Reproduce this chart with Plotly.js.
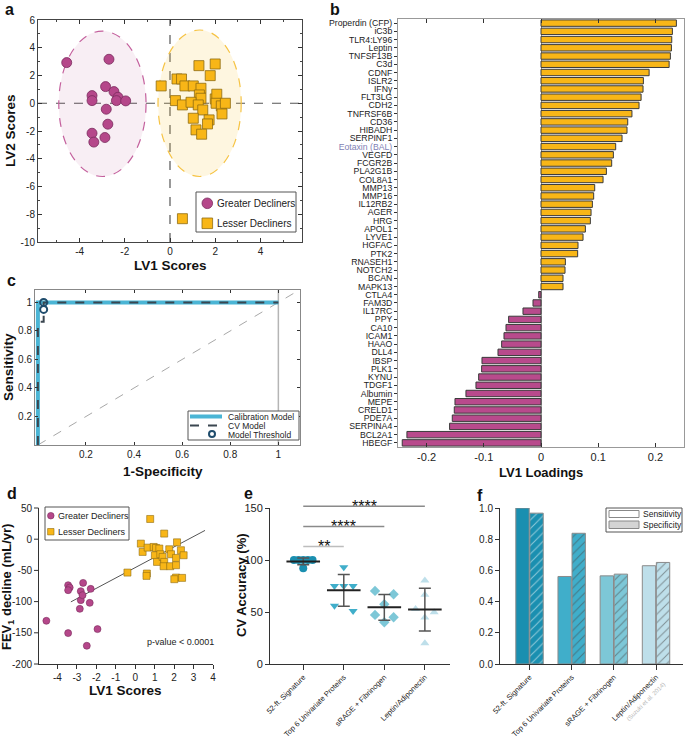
<!DOCTYPE html>
<html><head><meta charset="utf-8">
<script src="https://cdn.plot.ly/plotly-3.0.1.min.js"></script>
<style>html,body{margin:0;padding:0;background:#fff}#chart{width:685px;height:742px;position:relative}#ov{position:absolute;left:0;top:0;z-index:1000;pointer-events:none}</style>
</head><body><div id="chart"></div>
<script>
// ---------------- DATA ----------------
// Panel a: PLS-DA scores
const aGreaterX = [-4.57,-2.70,-2.85,-2.48,-3.45,-3.45,-2.30,-2.37,-1.96,-2.82,-2.75,-3.45,-3.37,-2.88];
const aGreaterY = [2.93,3.17,1.20,0.84,0.55,0.19,0.43,0.19,0.17,-0.43,-1.51,-2.16,-2.80,-2.47];
const aLesserX = [-0.39,0.31,0.51,0.66,1.03,1.28,2.00,1.78,1.37,1.30,1.37,0.24,0.55,0.93,1.25,1.45,2.00,2.07,2.04,2.27,2.45,2.30,1.03,1.73,1.66,1.15,1.40,0.55];
const aLesserY = [1.25,1.75,1.75,1.25,1.25,2.71,2.83,1.99,1.08,0.60,0.36,0.19,-0.12,0.07,-0.12,-0.48,0.31,0.65,0.00,-0.19,0.00,-0.77,-1.08,-1.20,-1.49,-1.92,-2.23,-8.32];
// confidence ellipses [greater, lesser]
const ellipseCx = [-2.99, 1.31];
const ellipseCy = [-0.04, 0.00];
const ellipseRx = [1.93, 1.84];
const ellipseRy = [5.24, 5.28];
const groupNames = ['Greater Decliners','Lesser Decliners'];

// Panel b: LV1 loadings
const bNames = ['Properdin (CFP)','iC3b','TLR4:LY96','Leptin','TNFSF13B','C3d','CDNF','ISLR2','IFNγ','FLT3LG','CDH2','TNFRSF6B','CD36','HIBADH','SERPINF1','Eotaxin (BAL)','VEGFD','FCGR2B','PLA2G1B','COL8A1','MMP13','MMP16','IL12RB2','AGER','HRG','APOL1','LYVE1','HGFAC','PTK2','RNASEH1','NOTCH2','BCAN','MAPK13','CTLA4','FAM3D','IL17RC','PPY','CA10','ICAM1','HAAO','DLL4','IBSP','PLK1','KYNU','TDGF1','Albumin','MEPE','CRELD1','PDE7A','SERPINA4','BCL2A1','HBEGF'];
const bLoadings = [0.2367,0.2297,0.2286,0.2280,0.2262,0.2240,0.1890,0.1790,0.1784,0.1750,0.1714,0.1590,0.1516,0.1504,0.1417,0.1306,0.1265,0.1236,0.1143,0.1085,0.0939,0.0921,0.0898,0.0875,0.0863,0.0776,0.0735,0.0647,0.0641,0.0426,0.0420,0.0385,0.0385,-0.0040,-0.0140,-0.0315,-0.0566,-0.0612,-0.0647,-0.0688,-0.0752,-0.1032,-0.1038,-0.1090,-0.1137,-0.1312,-0.1504,-0.1516,-0.1551,-0.1598,-0.2344,-0.2426];
const bHighlight = ['Eotaxin (BAL)'];

// Panel c: ROC curves
const cCalibFPR = [0, 0, 1];
const cCalibTPR = [0, 1, 1];
const cCvFPR = [0, 0, 0.024, 0.024, 1];
const cCvTPR = [0, 0.864, 0.864, 1, 1];
const cThreshFPR = [0.024, 0.024];
const cThreshTPR = [1.0, 0.951];
const cLegendNames = ['Calibration Model','CV Model','Model Threshold'];

// Panel d: FEV1 decline vs LV1 scores
const dGreaterX = [-4.57,-3.45,-3.37,-3.45,-2.68,-2.80,-2.80,-2.71,-2.29,-2.85,-2.34,-3.45,-1.94,-2.49];
const dGreaterY = [-130.8,-73.7,-77.5,-81.7,-70.0,-83.3,-97.7,-89.7,-79.6,-111.6,-102.0,-150.5,-144.1,-170.8];
const dLesserX = [0.77,1.49,-0.40,0.29,0.38,0.64,0.95,1.07,1.24,1.01,1.12,1.29,1.41,1.49,1.46,1.75,1.84,1.80,2.15,2.10,2.10,2.35,2.49,0.60,0.58,2.10,2.01,2.41];
const dLesserY = [32.4,9.0,-53.5,-7.1,-20.4,-13.5,-12.4,-14.0,-15.0,-25.7,-36.4,-24.1,-28.4,-36.4,-43.3,-16.1,-24.1,-43.3,-5.0,-30.0,-41.7,-17.7,-25.7,-55.0,-58.8,-61.5,-64.1,-62.0];
const dFitX = [-3.31, 3.59];
const dFitSlope = 16.6;
const dFitIntercept = -45.5;
const dYTicks = [-200,-150,-100,-50,0,50];
const dPText = 'p-value < 0.0001';

// Panel e: CV accuracy
const eCats = ['52-ft. Signature','Top 6 Univariate Proteins','sRAGE + Fibrinogen','Leptin/Adiponectin'];
const eSignature = [100,100,100,100,100,92];
const eTop6 = [93,75,75,75,56,51];
const eSrage = [70.3,67.1,57.5,47.2,45.0,40.2];
const eLeptin = [80.3,66.5,53.0,49.8,44.6,19.9];
const eSigFrom = [0,0,0];
const eSigTo = [1,2,3];
const eSigLevel = [113,132.3,151.6];
const eSigStars = ['**','****','****'];

// Panel f: sensitivity / specificity
const fCats = ['52-ft. Signature','Top 6 Univariate Proteins','sRAGE + Fibrinogen','Leptin/Adiponectin'];
const fCite = '(Suzuki et al. 2014)';
const fSens = [1.0, 0.561, 0.565, 0.63];
const fSpec = [0.967, 0.838, 0.576, 0.651];
const fLegendNames = ['Sensitivity','Specificity'];

// ---------------- STYLE / LAYOUT ----------------
const W = 685, H = 742;
const FONT = 'Liberation Sans, Arial, Helvetica, sans-serif';
const PINK = '#B5478A', PINK_LINE = '#7a2b5d';
const YEL = '#F8B617', YEL_LINE = '#8f6c12';
const catColors = ['#1A8FB0','#40AECA','#7DC7D7','#BEDFEA'];
const px = v => v / W;
const py = v => 1 - v / H;

function axBase(extra){
  return Object.assign({
    showgrid:false, zeroline:false, showline:true, linecolor:'#333', linewidth:1,
    tickcolor:'#333', tickfont:{family:FONT, size:10, color:'#222'}, fixedrange:true,
    ticklabeloverflow:'allow', automargin:false
  }, extra);
}

const layout = {
  width: W, height: H,
  margin:{l:0,r:0,t:0,b:0,pad:0},
  paper_bgcolor:'#fff', plot_bgcolor:'rgba(0,0,0,0)',
  font:{family:FONT, color:'#222'},
  showlegend:false,
  barmode:'overlay',
  // panel a
  xaxis: axBase({domain:[px(38),px(302)], anchor:'y', range:[-5.84,5.84],
    tickmode:'array', tickvals:[-4,-2,0,2,4], ticktext:['-4','-2','0','2','4'],
    ticks:'inside', ticklen:4, mirror:'ticks', linecolor:'#444',
    minor:{tickmode:'linear', tick0:0, dtick:1, ticks:'inside', ticklen:2, tickcolor:'#444'}}),
  yaxis: axBase({domain:[py(242),py(20)], anchor:'x', range:[-10,6],
    tickmode:'array', tickvals:[-10,-8,-6,-4,-2,0,2,4,6], ticktext:['-10','-8','-6','-4','-2','0','2','4','6'],
    ticks:'inside', ticklen:4, mirror:'ticks', linecolor:'#444',
    minor:{tickmode:'linear', tick0:0, dtick:1, ticks:'inside', ticklen:2, tickcolor:'#444'}}),
  // panel b
  xaxis2: axBase({domain:[px(398),px(684)], anchor:'y2', range:[-0.25,0.25],
    tickmode:'array', tickvals:[-0.2,-0.1,0,0.1,0.2], ticktext:['-0.2','-0.1','0','0.1','0.2'],
    ticks:'inside', ticklen:4, mirror:'ticks', linecolor:'#999', tickfont:{family:FONT,size:11,color:'#222'},
    zeroline:true, zerolinecolor:'#999', zerolinewidth:1}),
  yaxis2: axBase({domain:[py(447),py(19)], anchor:'x2', range:[51.5,-0.5],
    tickmode:'array', tickvals:bNames.map((n,i)=>i),
    ticktext:bNames.map(n => bHighlight.includes(n) ? '<span style="color:#7F7FB5">'+n+'</span>' : n),
    ticks:'outside', ticklen:3, mirror:'ticks', linecolor:'#999', tickfont:{family:FONT,size:8.7,color:'#222'}}),
  // panel c
  xaxis3: axBase({domain:[px(35),px(300)], anchor:'y3', range:[-0.012,1.09],
    tickmode:'array', tickvals:[0.2,0.4,0.6,0.8,1], ticktext:['0.2','0.4','0.6','0.8','1'],
    ticks:'inside', ticklen:3, mirror:'ticks', linecolor:'#888'}),
  yaxis3: axBase({domain:[py(445),py(290)], anchor:'x3', range:[0,1.087],
    tickmode:'array', tickvals:[0.2,0.4,0.6,0.8,1], ticktext:['0.2','0.4','0.6','0.8','1'],
    ticks:'inside', ticklen:3, mirror:'ticks', linecolor:'#888'}),
  // panel d
  xaxis4: axBase({domain:[px(38),px(213)], anchor:'y4', range:[-5,4],
    tickmode:'array', tickvals:[-4,-3,-2,-1,0,1,2,3,4], ticktext:['-4','-3','-2','-1','0','1','2','3','4'],
    ticks:'outside', ticklen:4}),
  yaxis4: axBase({domain:[py(664),py(508)], anchor:'x4', range:[-200,50],
    tickmode:'array', tickvals:dYTicks, showline:false, ticks:'', showticklabels:false}),
  // panel e
  xaxis5: axBase({domain:[px(270),px(450)], anchor:'y5', range:[-0.82,3.62],
    tickmode:'array', tickvals:[0,1,2,3], ticktext:eCats, tickangle:-45,
    ticks:'outside', ticklen:5, tickfont:{family:FONT,size:7.5,color:'#222'}}),
  yaxis5: axBase({domain:[py(664),py(508)], anchor:'x5', range:[0,150],
    tickmode:'array', tickvals:[0,50,100,150], ticktext:['0','50','100','150'],
    ticks:'outside', ticklen:4, tickfont:{family:FONT,size:11,color:'#222'}}),
  // panel f
  xaxis6: axBase({domain:[px(500),px(683)], anchor:'y6', range:[-0.7,3.64],
    tickmode:'array', tickvals:[0,1,2,3],
    ticktext:fCats.map((c,i)=> i===3 ? c+'<br><span style="color:#b8b8b8;font-size:6px">'+fCite+'</span>' : c),
    tickangle:-45, ticks:'outside', ticklen:5, tickfont:{family:FONT,size:7.5,color:'#222'}}),
  yaxis6: axBase({domain:[py(664),py(508)], anchor:'x6', range:[0,1],
    tickmode:'array', tickvals:[0,0.2,0.4,0.6,0.8,1], ticktext:['0.0','0.2','0.4','0.6','0.8','1.0'],
    ticks:'outside', ticklen:4, tickfont:{family:FONT,size:10,color:'#222'}}),
  shapes:[], annotations:[]
};

function toPaperX(axName, v){ const a = layout[axName]; const r=a.range, d=a.domain; return d[0] + (v-r[0])/(r[1]-r[0])*(d[1]-d[0]); }
function toPaperY(axName, v){ const a = layout[axName]; const r=a.range, d=a.domain; return d[0] + (v-r[0])/(r[1]-r[0])*(d[1]-d[0]); }
function legendText(txt, x, y, size){
  layout.annotations.push({xref:'paper', yref:'paper', x:px(x), y:py(y), text:txt, showarrow:false, xanchor:'left', yanchor:'middle', font:{family:FONT,size:size,color:'#222'}});
}
function boxShape(x0,y0,x1,y1,fill,lc,lw){
  layout.shapes.push({type:'rect', xref:'paper', yref:'paper', x0:px(x0), x1:px(x1), y0:py(y1), y1:py(y0), fillcolor:fill, line:{color:lc, width:lw}, layer:'above'});
}
function circShape(cx,cy,r,fill,lc,lw){
  layout.shapes.push({type:'circle', xref:'paper', yref:'paper', x0:px(cx-r), x1:px(cx+r), y0:py(cy+r), y1:py(cy-r), fillcolor:fill, line:{color:lc, width:lw}, layer:'above'});
}

// ---- shapes: panel a ellipses & reference lines
const ellFill = ['rgba(181,71,138,0.09)','rgba(250,196,60,0.16)'];
const ellLine = ['#C4609D','#F6C343'];
for (let k=0;k<2;k++){
  layout.shapes.push({type:'circle', xref:'x', yref:'y', layer:'below',
    x0:ellipseCx[k]-ellipseRx[k], x1:ellipseCx[k]+ellipseRx[k],
    y0:ellipseCy[k]-ellipseRy[k], y1:ellipseCy[k]+ellipseRy[k],
    fillcolor:ellFill[k], line:{color:ellLine[k], width:1.2, dash:'dash'}});
}
layout.shapes.push({type:'line', xref:'x', yref:'y domain', x0:0, x1:0, y0:0, y1:1, layer:'below', line:{color:'#555', width:1.2, dash:'dash'}});
layout.shapes.push({type:'line', xref:'x domain', yref:'y', x0:0, x1:1, y0:0, y1:0, layer:'below', line:{color:'#555', width:1.2, dash:'dash'}});
// panel c reference lines
layout.shapes.push({type:'line', xref:'x3', yref:'y3', x0:0, y0:0, x1:1.1, y1:1.1, layer:'below', line:{color:'#a8a8a8', width:1, dash:'dash'}});
layout.shapes.push({type:'line', xref:'x3', yref:'y3 domain', x0:1, x1:1, y0:0, y1:1, layer:'below', line:{color:'#b5b5b5', width:1.5}});

// ---- panel a legend
boxShape(196,192,296,232,'#fff','#555',1);
circShape(207.3,203.3,5.3,PINK,PINK_LINE,0.8);
boxShape(202,218,212.6,228.6,YEL,YEL_LINE,0.8);
legendText(groupNames[0],215,203.5,10);
legendText(groupNames[1],215,223.5,10);

// ---- panel d legend
boxShape(45,507,129,540,'#fff','#555',1);
circShape(50.8,515.7,3.3,PINK,PINK_LINE,0.6);
boxShape(47.6,528.5,54,534.9,YEL,YEL_LINE,0.6);
legendText(groupNames[0],56,515.8,9);
legendText(groupNames[1],56,531.8,9);

// ---- panel c legend
boxShape(188,411,299,440,'#fff','#555',1);
layout.shapes.push({type:'line', xref:'paper', yref:'paper', x0:px(190), x1:px(222), y0:py(416.5), y1:py(416.5), line:{color:'#4BB5D5', width:4}, layer:'above'});
layout.shapes.push({type:'line', xref:'paper', yref:'paper', x0:px(190), x1:px(222), y0:py(425.5), y1:py(425.5), line:{color:'#3b4650', width:2, dash:'dash'}, layer:'above'});
circShape(212,434,3,'rgba(0,0,0,0)','#1F4C6C',2);
legendText(cLegendNames[0],226,416.5,8.5);
legendText(cLegendNames[1],226,425.5,8.5);
legendText(cLegendNames[2],226,434.5,8.5);

// ---- panel f legend
boxShape(606,508,682,532,'#fff','#555',1);
boxShape(609,510.5,639,517.5,'#fff','#888',1);
boxShape(609,521,639,528.5,'#d4d4d4','#888',1);
legendText(fLegendNames[0],641,514,8.5);
legendText(fLegendNames[1],641,525,8.5);

// ---- panel e significance bars
for (let k=0;k<eSigLevel.length;k++){
  const x0 = toPaperX('xaxis5', eSigFrom[k]), x1 = toPaperX('xaxis5', eSigTo[k]);
  const yv = toPaperY('yaxis5', eSigLevel[k]);
  layout.shapes.push({type:'line', xref:'paper', yref:'paper', x0:x0, x1:x1, y0:yv, y1:yv, line:{color: k===0 ? '#bdbdbd' : '#8a8a8a', width:1.5}});
  layout.annotations.push({xref:'paper', yref:'paper', x:(x0+x1)/2, y:yv, text:eSigStars[k], showarrow:false, xanchor:'center', yanchor:'middle', yshift:0, font:{family:FONT,size:16,color:'#111'}});
}

// ---- text annotations: panel letters & axis titles
const letters = [['a',3,9],['b',328,9],['c',5,280],['d',5,494],['e',242,493],['f',475,495]];
letters.forEach(l => layout.annotations.push({xref:'paper', yref:'paper', x:px(l[1]), y:py(l[2]), text:'<b>'+l[0]+'</b>', showarrow:false, xanchor:'left', yanchor:'middle', font:{family:FONT,size:16,color:'#111'}}));
const titles = [
  ['<b>LV2 Scores</b>',10,131,-90,13.5],
  ['<b>LV1 Scores</b>',170,266,0,13.5],
  ['<b>LV1 Loadings</b>',541,472,0,13],
  ['<b>Sensitivity</b>',8,367,-90,13.5],
  ['<b>1-Specificity</b>',163,471,0,13.5],
  ['<b>FEV<sub>1</sub> decline (mL/yr)</b>',7,587,-90,13],
  ['<b>LV1 Scores</b>',126,690,0,13.5],
  ['<b>CV Accuracy (%)</b>',241,585,-90,13]
];
titles.forEach(t => layout.annotations.push({xref:'paper', yref:'paper', x:px(t[1]), y:py(t[2]), text:t[0], textangle:t[3], showarrow:false, xanchor:'center', yanchor:'middle', font:{family:FONT,size:t[4],color:'#111'}}));
layout.annotations.push({xref:'paper', yref:'paper', x:px(180), y:py(642), text:dPText, showarrow:false, xanchor:'center', yanchor:'middle', font:{family:FONT,size:9,color:'#222'}});

// ---------------- TRACES ----------------
const traces = [];
// panel a
traces.push({type:'scatter', mode:'markers', x:aGreaterX, y:aGreaterY, xaxis:'x', yaxis:'y', name:groupNames[0],
  marker:{symbol:'circle', size:10, color:PINK, line:{color:PINK_LINE, width:0.8}}});
traces.push({type:'scatter', mode:'markers', x:aLesserX, y:aLesserY, xaxis:'x', yaxis:'y', name:groupNames[1],
  marker:{symbol:'square', size:10, color:YEL, line:{color:YEL_LINE, width:0.8}}});

// panel b
traces.push({type:'bar', orientation:'h', x:bLoadings, y:bNames.map((n,i)=>i), xaxis:'x2', yaxis:'y2', width:0.78,
  marker:{color:bLoadings.map(v=> v>=0 ? YEL : '#B84A8C'), line:{color:'#3a3a3a', width:1}}});

// panel c
traces.push({type:'scatter', mode:'lines', x:cCalibFPR, y:cCalibTPR, xaxis:'x3', yaxis:'y3', name:cLegendNames[0],
  line:{color:'#4BB5D5', width:4}});
traces.push({type:'scatter', mode:'lines', x:cCvFPR, y:cCvTPR, xaxis:'x3', yaxis:'y3', name:cLegendNames[1],
  line:{color:'#3b4650', width:2, dash:'dash'}});
traces.push({type:'scatter', mode:'markers', x:cThreshFPR, y:cThreshTPR, xaxis:'x3', yaxis:'y3', name:cLegendNames[2], cliponaxis:false,
  marker:{symbol:'circle-open', size:7, color:'#1F4C6C', line:{width:2, color:'#1F4C6C'}}});

// panel d
traces.push({type:'scatter', mode:'lines', x:dFitX, y:dFitX.map(x=>dFitIntercept+dFitSlope*x), xaxis:'x4', yaxis:'y4',
  line:{color:'#555', width:1}});
traces.push({type:'scatter', mode:'markers', x:dGreaterX, y:dGreaterY, xaxis:'x4', yaxis:'y4', name:groupNames[0],
  marker:{symbol:'circle', size:7, color:PINK, line:{color:PINK_LINE, width:0.6}}});
traces.push({type:'scatter', mode:'markers', x:dLesserX, y:dLesserY, xaxis:'x4', yaxis:'y4', name:groupNames[1],
  marker:{symbol:'square', size:7, color:YEL, line:{color:YEL_LINE, width:0.6}}});

// panel e
function swarmOffsets(vals, pxPerCat, spanPx, thr){
  const idx = vals.map((v,i)=>i).sort((a,b)=>vals[b]-vals[a]);
  const off = new Array(vals.length).fill(0);
  let i = 0;
  while (i < idx.length){
    let j = i;
    while (j+1 < idx.length && vals[idx[i]] - vals[idx[j+1]] < thr) j++;
    const n = j - i + 1;
    for (let k=0;k<n;k++) off[idx[i+k]] = n===1 ? 0 : (k-(n-1)/2)*spanPx/(n-1)/pxPerCat;
    i = j + 1;
  }
  return off;
}
const pxPerCat = (layout.xaxis5.domain[1]-layout.xaxis5.domain[0])*W/(layout.xaxis5.range[1]-layout.xaxis5.range[0]);
const eGroups = [eSignature, eTop6, eSrage, eLeptin];
const eSymbols = ['circle','triangle-down','diamond','triangle-up'];
const mean = a => a.reduce((s,v)=>s+v,0)/a.length;
const sd = a => { const m = mean(a); return Math.sqrt(a.reduce((s,v)=>s+(v-m)*(v-m),0)/(a.length-1)); };
eGroups.forEach((g,gi)=>{
  const off = swarmOffsets(g, pxPerCat, 18.6, 6);
  traces.push({type:'scatter', mode:'markers', x:g.map((v,i)=>gi+off[i]), y:g, xaxis:'x5', yaxis:'y5', name:eCats[gi],
    marker:{symbol:eSymbols[gi], size:8, color:catColors[gi], line:{width:0}}});
});
traces.push({type:'scatter', mode:'markers', x:[0,1,2,3], y:eGroups.map(mean), xaxis:'x5', yaxis:'y5',
  error_y:{type:'data', array:eGroups.map(sd), visible:true, color:'#555', thickness:1.5, width:6},
  marker:{symbol:'line-ew', size:24, color:'#222', line:{width:2, color:'#222'}}});

// panel f
traces.push({type:'bar', x:[0,1,2,3], y:fSens, xaxis:'x6', yaxis:'y6', name:fLegendNames[0], width:0.317, offset:-0.325,
  marker:{color:catColors, line:{color:'#8a8a8a', width:1}}});
traces.push({type:'bar', x:[0,1,2,3], y:fSpec, xaxis:'x6', yaxis:'y6', name:fLegendNames[1], width:0.317, offset:0.008,
  marker:{color:catColors, line:{color:'#8a8a8a', width:1},
    pattern:{shape:'/', fillmode:'overlay', fgcolor:'#1f3a48', size:6, solidity:0.18}}});

Plotly.newPlot('chart', traces, layout, {staticPlot:true, displayModeBar:false}).then(gd => {
  // panel d y axis: line, ticks and labels placed with Plotly's own yaxis4 scale, in a top overlay
  const fl = gd._fullLayout, ya = fl.yaxis4, xa = fl.xaxis4;
  const NS = 'http://www.w3.org/2000/svg';
  const ov = document.createElementNS(NS, 'svg');
  ov.setAttribute('id', 'ov'); ov.setAttribute('width', W); ov.setAttribute('height', H);
  const x0 = xa._offset;
  const line = (x1,y1,x2,y2) => { const l = document.createElementNS(NS,'line');
    l.setAttribute('x1',x1); l.setAttribute('y1',y1); l.setAttribute('x2',x2); l.setAttribute('y2',y2);
    l.setAttribute('stroke','#333'); l.setAttribute('stroke-width','1'); ov.appendChild(l); };
  line(x0+0.5, ya._offset, x0+0.5, ya._offset + ya._length);
  dYTicks.forEach(v => {
    const yp = ya._offset + ya.l2p(v);
    line(x0-4, yp, x0+0.5, yp);
    const t = document.createElementNS(NS,'text');
    t.setAttribute('x', x0-6); t.setAttribute('y', yp + 3.5);
    t.setAttribute('text-anchor','end');
    t.setAttribute('font-family', FONT); t.setAttribute('font-size','10'); t.setAttribute('fill','#222');
    t.textContent = String(v);
    ov.appendChild(t);
  });
  document.getElementById('chart').appendChild(ov);
});
</script></body></html>
